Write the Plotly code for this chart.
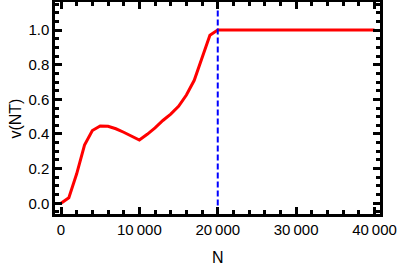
import plotly.graph_objects as go

N_vals = list(range(0, 41000, 1000))
v_vals = [0.0, 0.032, 0.17, 0.336, 0.42, 0.446, 0.444, 0.43, 0.41, 0.388, 0.365,
          0.398, 0.435, 0.478, 0.515, 0.56, 0.625, 0.71, 0.846, 0.97, 1.0,
          1.0, 1.0, 1.001, 1.002, 1.001, 0.999, 0.998, 0.999, 1.001, 1.002,
          1.001, 0.999, 0.998, 0.999, 1.0, 1.001, 1.0, 1.0, 1.0, 1.0]
threshold_N = 20000
x_ticks = [0, 10000, 20000, 30000, 40000]
x_minor_step = 2000
y_ticks = [0.0, 0.2, 0.4, 0.6, 0.8, 1.0]
y_minor_step = 0.05

fig = go.Figure()
fig.add_trace(go.Scatter(x=N_vals, y=v_vals, mode="lines",
                         line=dict(color="#ff0000", width=3), showlegend=False))
fig.add_trace(go.Scatter(x=[threshold_N, threshold_N], y=[-1, 2], mode="lines",
                         line=dict(color="#0000ff", width=2, dash="6px,3px"),
                         showlegend=False))

font = dict(family="Liberation Sans, Arial, sans-serif", size=15, color="black")
fig.update_layout(
    width=399, height=270,
    margin=dict(l=55, r=19, t=2, b=56, autoexpand=False),
    plot_bgcolor="white", paper_bgcolor="white",
    font=font,
    separators=".\u2009",
    annotations=[
        dict(text="N", xref="paper", yref="paper", x=0.5, y=-0.205, yanchor="middle",
             xanchor="center", showarrow=False, font=dict(size=16)),
        dict(text="v(NT)", xref="paper", yref="paper", x=-0.12, y=0.45, textangle=-90,
             xanchor="center", yanchor="middle", showarrow=False, font=dict(size=16)),
    ],
)
fig.update_xaxes(range=[-766, 40702], tickmode="linear", tick0=x_ticks[0],
                 dtick=x_ticks[1] - x_ticks[0], tickformat=",d",
                 automargin=False,
                 showgrid=False, zeroline=False, showline=True, linecolor="black",
                 linewidth=2.5, mirror="allticks", ticks="inside", ticklen=7,
                 tickwidth=2.5, tickcolor="black",
                 minor=dict(dtick=x_minor_step, tick0=0, ticks="inside", ticklen=4,
                            tickwidth=2.5, tickcolor="black", showgrid=False))
fig.update_yaxes(range=[-0.062, 1.162], tickmode="linear", tick0=y_ticks[0],
                 dtick=round(y_ticks[1] - y_ticks[0], 3), tickformat=".1f",
                 automargin=False,
                 showgrid=False, zeroline=False, showline=True, linecolor="black",
                 linewidth=2.5, mirror="allticks", ticks="inside", ticklen=7,
                 tickwidth=2.5, tickcolor="black",
                 minor=dict(dtick=y_minor_step, tick0=0, ticks="inside", ticklen=4,
                            tickwidth=2.5, tickcolor="black", showgrid=False))

fig.write_html("out.html", config={"displayModeBar": False},
               post_script="document.body.style.margin='0';document.body.style.padding='0';")
